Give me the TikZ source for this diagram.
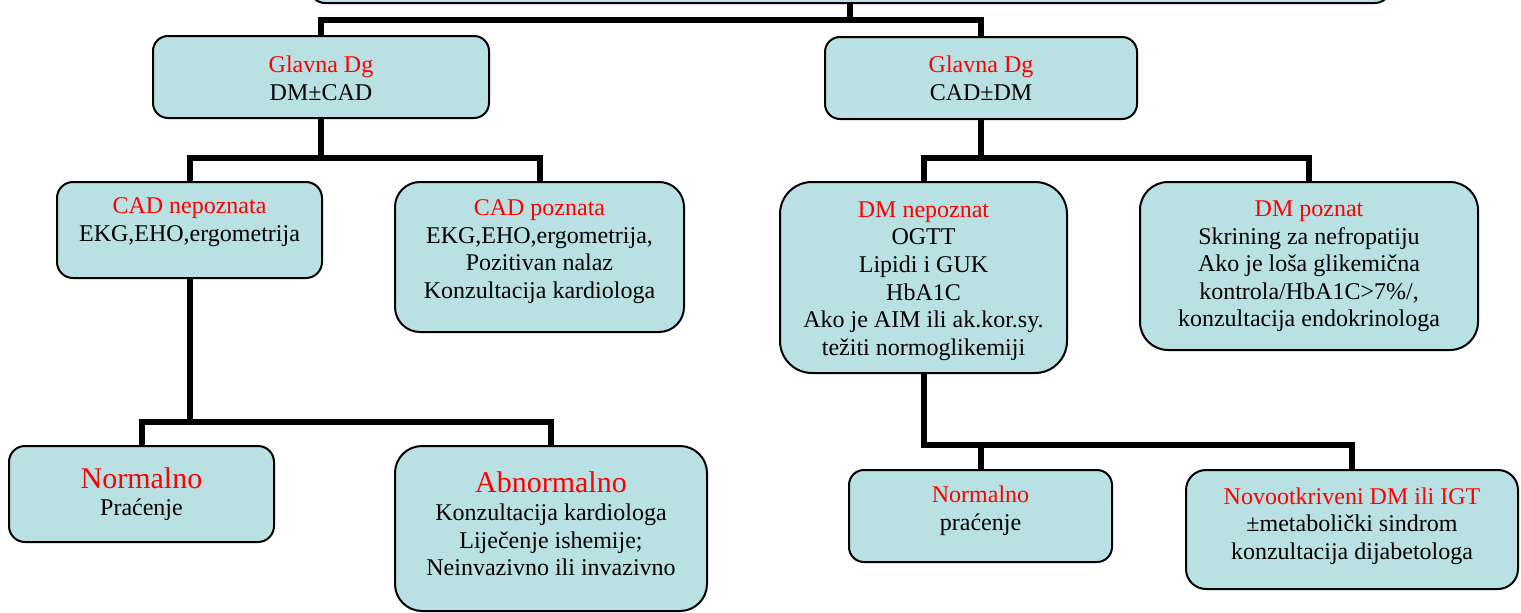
\documentclass[tikz,border=0pt]{standalone}
\usepackage{fontspec}
\setmainfont{Liberation Serif}
\usetikzlibrary{backgrounds}
\definecolor{boxfill}{RGB}{185,224,227}
\definecolor{hdred}{RGB}{255,0,0}
\begin{document}
\begin{tikzpicture}[x=1pt,y=-1pt,
  box/.style={draw=black, line width=2pt, fill=boxfill, rounded corners=#1, inner sep=0pt},
  box/.default=16pt,
  conn/.style={line width=6pt, draw=black},
  txt/.style={align=center, font=\fontsize{24}{27.6}\selectfont, inner sep=0pt},
  bigtxt/.style={align=center, font=\fontsize{30}{34}\selectfont, inner sep=0pt, text=hdred}]
\useasboundingbox (0,0) rectangle (1521,613);
\clip (0,0) rectangle (1521,613);

% boxes
\node[box=15pt, minimum width=1080pt, minimum height=50pt] (root) at (850,-22) {};
\node[box=15pt, minimum width=336pt, minimum height=82pt] (g1) at (321,77) {};
\node[box=15pt, minimum width=312pt, minimum height=82pt] (g2) at (981,78) {};
\node[box=16pt, minimum width=265pt, minimum height=96pt] (c1) at (189.5,230) {};
\node[box=25pt, minimum width=289pt, minimum height=150pt] (c2) at (539.5,257) {};
\node[box=32pt, minimum width=287pt, minimum height=191pt] (d1) at (923.5,277.5) {};
\node[box=28pt, minimum width=338pt, minimum height=168pt] (d2) at (1309,266) {};
\node[box=16pt, minimum width=265pt, minimum height=96pt] (n1) at (141.5,494) {};
\node[box=27pt, minimum width=312pt, minimum height=165pt] (a1) at (551,528.5) {};
\node[box=15pt, minimum width=263pt, minimum height=92pt] (n2) at (980.5,516) {};
\node[box=20pt, minimum width=332pt, minimum height=119pt] (v2) at (1352,529.5) {};

% bar levels
\coordinate (L0) at (0,20);
\coordinate (L1) at (0,158);
\coordinate (L2) at (0,422);
\coordinate (L3) at (0,445);

\begin{scope}[on background layer]
\draw[conn] (root.south) |- (g1.north |- L0) -- (g1.north);
\draw[conn] (root.south) |- (g2.north |- L0) -- (g2.north);
\draw[conn] (g1.south) |- (c1.north |- L1) -- (c1.north);
\draw[conn] (g1.south) |- (c2.north |- L1) -- (c2.north);
\draw[conn] (g2.south) |- (d1.north |- L1) -- (d1.north);
\draw[conn] (g2.south) |- (d2.north |- L1) -- (d2.north);
\draw[conn] (c1.south) |- (n1.north |- L2) -- (n1.north);
\draw[conn] (c1.south) |- (a1.north |- L2) -- (a1.north);
\draw[conn] (d1.south) |- (n2.north |- L3) -- (n2.north);
\draw[conn] (d1.south) |- (v2.north |- L3) -- (v2.north);
\end{scope}

% texts
\node[txt] (tg1) at (321,78) {\textcolor{hdred}{Glavna Dg}\\DM±CAD};
\node[txt] (tg2) at (981,78) {\textcolor{hdred}{Glavna Dg}\\CAD±DM};
\node[txt] (tc1) at (189.5,222) {\textcolor{hdred}{CAD nepoznata}\\EKG,EHO,ergometrija};
\node[txt] (tc2) at (539.5,251.5) {\textcolor{hdred}{CAD poznata}\\EKG,EHO,ergometrija,\\Pozitivan nalaz\\Konzultacija kardiologa};
\node[txt] (td1) at (923.5,281) {\textcolor{hdred}{DM nepoznat}\\OGTT\\Lipidi i GUK\\HbA1C\\Ako je AIM ili ak.kor.sy.\\težiti normoglikemiji};
\node[txt] (td2) at (1309,266.5) {\textcolor{hdred}{DM poznat}\\Skrining za nefropatiju\\Ako je loša glikemična\\kontrola/HbA1C>7\%/,\\konzultacija endokrinologa};
\node[bigtxt] (tn1a) at (141.5,478) {Normalno};
\node[txt] (tn1b) at (141.5,510) {Praćenje};
\node[bigtxt] (ta1a) at (551,482) {Abnormalno};
\node[txt] (ta1b) at (551,540) {Konzultacija kardiologa\\Liječenje ishemije;\\Neinvazivno ili invazivno};
\node[txt] (tn2) at (980.5,511) {\textcolor{hdred}{Normalno}\\praćenje};
\node[txt] (tv2) at (1352,526) {\textcolor{hdred}{Novootkriveni DM ili IGT}\\±metabolički sindrom\\konzultacija dijabetologa};
\end{tikzpicture}
\end{document}
